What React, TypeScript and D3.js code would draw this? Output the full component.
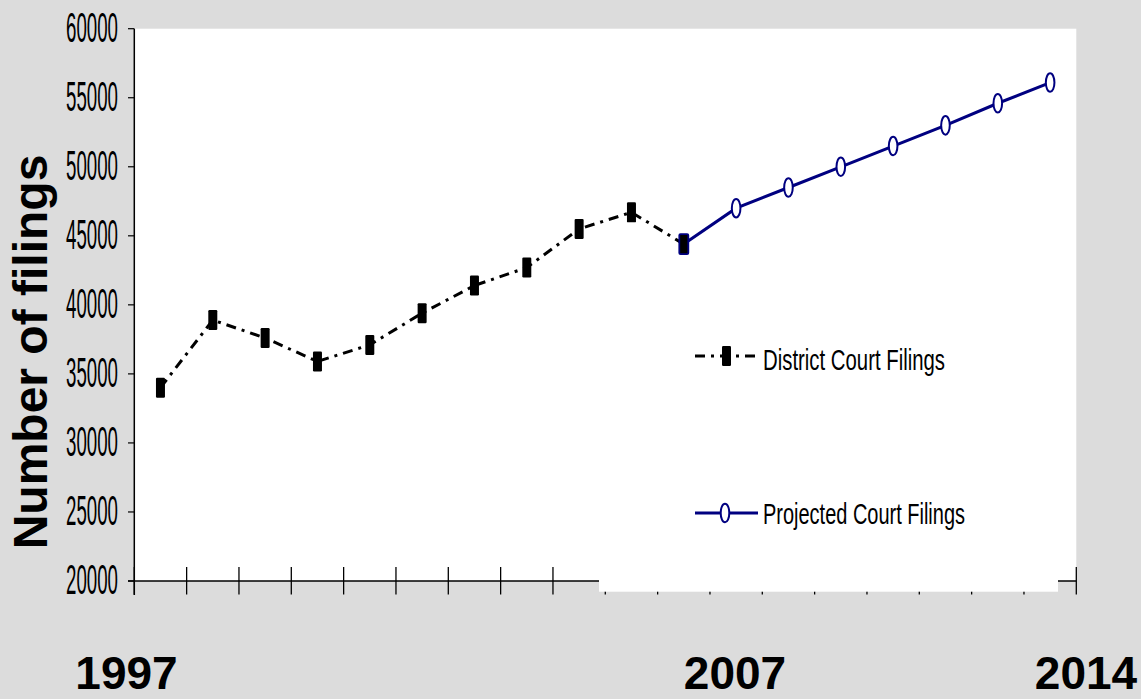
import React from 'react';
import * as d3 from 'd3';

const years = [1997, 1998, 1999, 2000, 2001, 2002, 2003, 2004, 2005, 2006, 2007, 2008, 2009, 2010, 2011, 2012, 2013, 2014];
const districtYears = [1997, 1998, 1999, 2000, 2001, 2002, 2003, 2004, 2005, 2006, 2007];
const districtFilings = [34000, 38900, 37600, 35900, 37100, 39400, 41400, 42700, 45500, 46700, 44400];
const projectedYears = [2007, 2008, 2009, 2010, 2011, 2012, 2013, 2014];
const projectedFilings = [44400, 47000, 48500, 50000, 51500, 53000, 54600, 56100];
const yTicks = [20000, 25000, 30000, 35000, 40000, 45000, 50000, 55000, 60000];
const bottomLabels = ['1997', '2007', '2014'];
const legendLabels = ['District Court Filings', 'Projected Court Filings'];
const yTitle = 'Number of filings';

const W = 1141;
const H = 699;
const BG = '#dcdcdc';
const NAVY = '#000080';
const FONT = '"Liberation Sans", Arial, Helvetica, sans-serif';

export default function App() {
  const left = 134.3;
  const right = 1076.3;
  const top = 28.7;
  const bottom = 581;

  const x = d3.scaleBand<number>().domain(years).range([left, right]).padding(0);
  const cx = (yr: number) => (x(yr) as number) + x.bandwidth() / 2;
  const y = d3.scaleLinear().domain([20000, 60000]).range([bottom, top]);

  const district = districtYears.map((yr, i) => ({ yr, v: districtFilings[i] }));
  const projected = projectedYears.map((yr, i) => ({ yr, v: projectedFilings[i] }));

  const line = d3
    .line<{ yr: number; v: number }>()
    .x((d) => cx(d.yr))
    .y((d) => y(d.v));

  const xTickPositions = years.map((yr) => x(yr) as number).concat([right]);

  const bottomLabelX = [126.5, 735, 1086];
  const legendTextLen = [182, 202];

  return (
    <svg
      width={W}
      height={H}
      style={{ position: 'absolute', left: 0, top: 0, display: 'block' }}
      fontFamily={FONT}
    >
      <rect x={0} y={0} width={W} height={H} fill={BG} />
      <rect x={left} y={top} width={right - left} height={bottom - top} fill="#ffffff" />

      {/* y axis */}
      <line x1={left} y1={top} x2={left} y2={595} stroke="#000" strokeWidth={1.5} />
      {yTicks.map((t) => (
        <g key={t}>
          <line x1={128} x2={left} y1={y(t)} y2={y(t)} stroke="#000" strokeWidth={1.2} />
          <text
            x={118}
            y={y(t) + 13}
            fontSize={43}
            textAnchor="end"
            textLength={52}
            lengthAdjust="spacingAndGlyphs"
            fill="#000"
          >
            {t}
          </text>
        </g>
      ))}

      {/* x axis */}
      <line x1={128} x2={right} y1={bottom} y2={bottom} stroke="#000" strokeWidth={1.5} />
      {xTickPositions.map((p, i) => (
        <line key={i} x1={p} x2={p} y1={567} y2={594.5} stroke="#000" strokeWidth={1.3} />
      ))}
      {/* white overlay box hiding part of the axis */}
      <rect x={599} y={560} width={459} height={31.7} fill="#ffffff" />

      {/* series lines */}
      <path
        d={line(district) || ''}
        fill="none"
        stroke="#000"
        strokeWidth={3}
        strokeDasharray="10,6,3,6"
      />
      <path d={line(projected) || ''} fill="none" stroke={NAVY} strokeWidth={3} />

      {/* district markers */}
      {district.map((d, i) => (
        <rect
          key={i}
          x={cx(d.yr) - 4.5}
          y={y(d.v) - 10}
          width={9}
          height={20}
          rx={1.2}
          fill="#000"
          stroke={d.yr === projectedYears[0] ? NAVY : 'none'}
          strokeWidth={d.yr === projectedYears[0] ? 1.8 : 0}
        />
      ))}
      {/* projected markers */}
      {projected.slice(1).map((d, i) => (
        <ellipse
          key={i}
          cx={cx(d.yr)}
          cy={y(d.v)}
          rx={4.3}
          ry={9.3}
          fill="#fff"
          stroke={NAVY}
          strokeWidth={2}
        />
      ))}

      {/* legend */}
      <line x1={695} x2={758} y1={356} y2={356} stroke="#000" strokeWidth={3} strokeDasharray="10,6,3,6" />
      <rect x={722} y={346} width={9} height={20} rx={1.2} fill="#000" />
      <text
        x={763}
        y={370}
        fontSize={30}
        textLength={legendTextLen[0]}
        lengthAdjust="spacingAndGlyphs"
        fill="#000"
      >
        {legendLabels[0]}
      </text>
      <line x1={695} x2={758} y1={513} y2={513} stroke={NAVY} strokeWidth={3} />
      <ellipse cx={725} cy={513} rx={4.3} ry={9.3} fill="#fff" stroke={NAVY} strokeWidth={2} />
      <text
        x={763}
        y={524}
        fontSize={30}
        textLength={legendTextLen[1]}
        lengthAdjust="spacingAndGlyphs"
        fill="#000"
      >
        {legendLabels[1]}
      </text>

      {/* y title */}
      <text
        transform={`translate(47, 352) rotate(-90)`}
        fontSize={48}
        fontWeight="bold"
        textAnchor="middle"
        fill="#000"
      >
        {yTitle}
      </text>

      {/* bottom year labels */}
      {bottomLabels.map((l, i) => (
        <text
          key={l}
          x={bottomLabelX[i]}
          y={689}
          fontSize={46}
          fontWeight="bold"
          textAnchor="middle"
          fill="#000"
        >
          {l}
        </text>
      ))}
    </svg>
  );
}
